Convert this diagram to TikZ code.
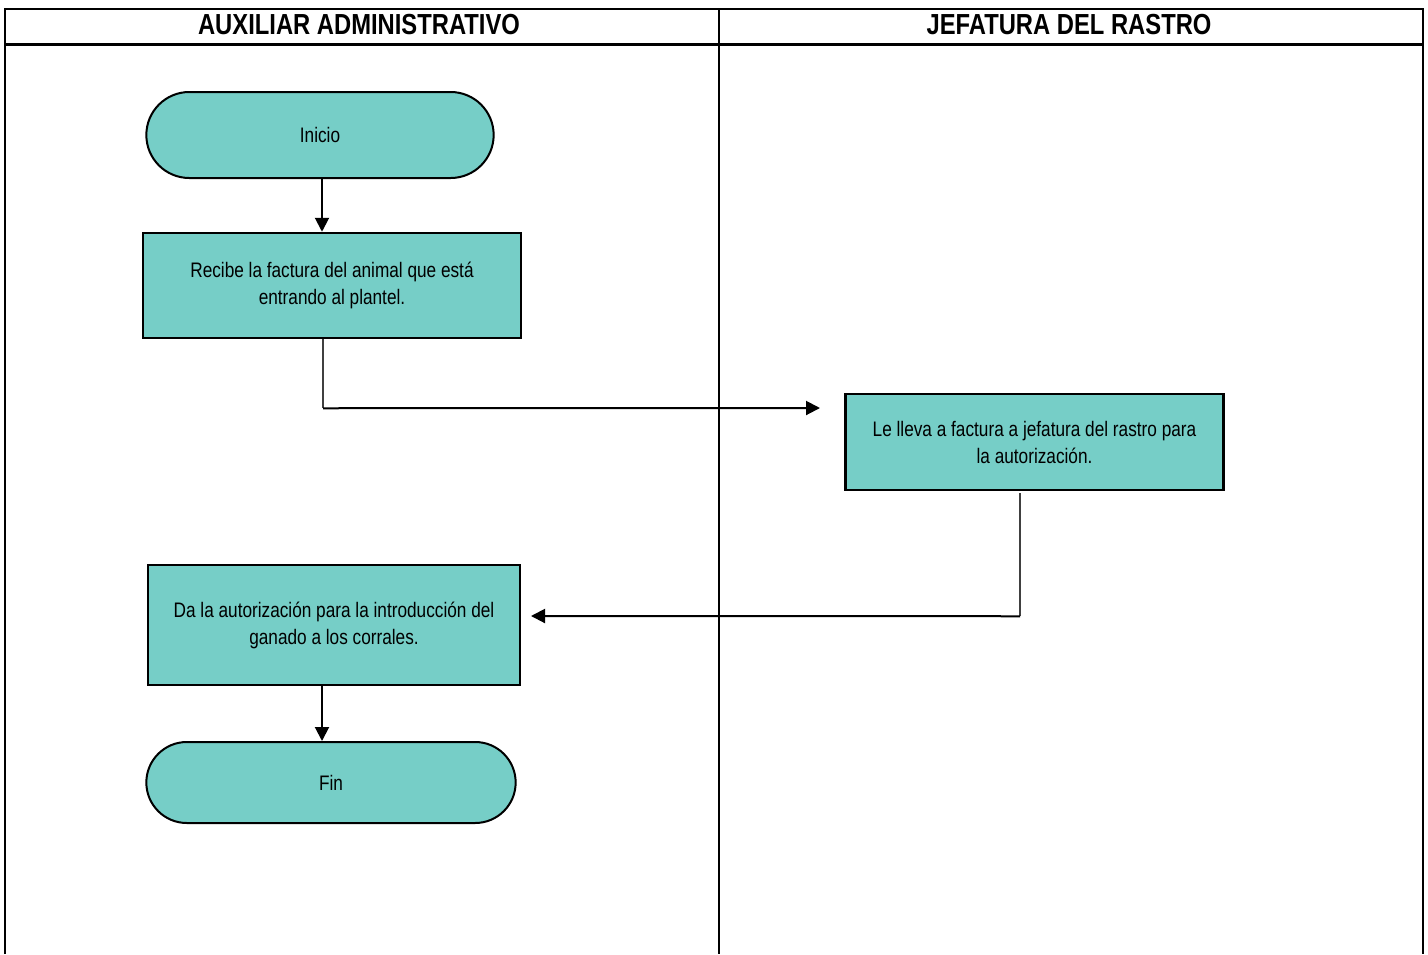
\documentclass[tikz,border=0pt]{standalone}
\usepackage{fontspec}
\usepackage{xcolor}
\usepackage{tikz}
\usetikzlibrary{positioning,calc,arrows.meta,shapes.misc}
\newfontfamily\narrowfont{Liberation Sans}[FakeStretch=0.82]
\definecolor{CTeal}{HTML}{76CEC7}
\definecolor{CLine}{HTML}{000000}

\begin{document}
\begin{tikzpicture}[x=1pt, y=-1pt,
  lanehead/.style={font=\narrowfont\bfseries\fontsize{29}{32}\selectfont, anchor=center},
  frameline/.style={CLine, line width=2pt},
  stepbox/.style={draw=CLine, fill=CTeal, line width=2.5pt, minimum width=378pt, minimum height=105pt,
    align=center, font=\narrowfont\fontsize{21}{27}\selectfont},
  terminal/.style={draw=CLine, fill=CTeal, line width=2pt, rounded rectangle, minimum width=354pt, minimum height=86pt,
    font=\narrowfont\fontsize{21}{24}\selectfont},
  flow/.style={CLine, line width=2pt, -{Triangle[length=14pt,width=14pt]}},
  link/.style={CLine!75, line width=1.5pt}]
\useasboundingbox (0,0) rectangle (1428,954);
% swimlane frame
\draw[frameline] (5,954) -- (5,9) -- (1423,9) -- (1423,954);
\draw[frameline, line width=3pt] (5,44) -- (1423,44);
\draw[frameline] (719,9) -- (719,954);
\node[lanehead] (laneA) at (359,25) {AUXILIAR ADMINISTRATIVO};
\node[lanehead] (laneB) at (1069,25) {JEFATURA DEL RASTRO};
% steps
\node[terminal] (inicio) at (320,135) {Inicio};
\node[stepbox] (recibe) at (332,285.5) {Recibe la factura del animal que está\\entrando al plantel.};
\node[stepbox, minimum height=96pt] (lleva) at (1034.5,442) {Le lleva a factura a jefatura del rastro para\\la autorización.};
\node[stepbox, minimum width=372pt, minimum height=120pt] (autoriza) at (334,625) {Da la autorización para la introducción del\\ganado a los corrales.};
\node[terminal, minimum width=376pt, minimum height=81pt] (fin) at (331,782.5) {Fin};
% connectors
\coordinate (inA) at (820,408);
\coordinate (inB) at (531,616);
\draw[flow] (inicio.south -| 322,0) -- (recibe.north -| 322,0);
\draw[link] ([xshift=-9pt]recibe.south) -- ++(0,69) coordinate (turnA);
\draw[flow] (turnA) -- (inA);
\draw[link] ([xshift=-14.5pt]lleva.south) ++(0,2) -- ++(0,123) coordinate (turnB);
\draw[flow] (turnB) -- (inB);
\draw[flow] (autoriza.south -| 322,0) -- (fin.north -| 322,0);
\end{tikzpicture}
\end{document}
